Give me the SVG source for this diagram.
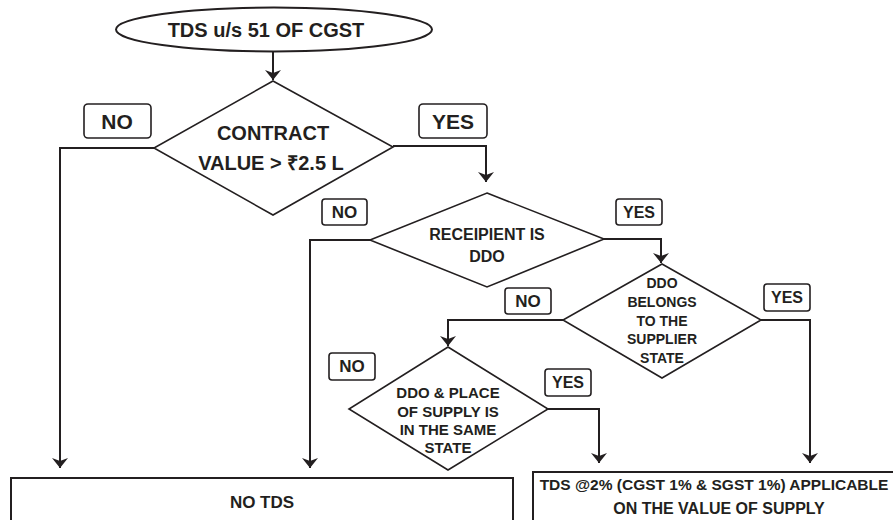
<svg xmlns="http://www.w3.org/2000/svg" width="893" height="520" viewBox="0 0 893 520">
<style>
.shape{fill:#fff;stroke:#231f20;stroke-width:1.6}
.box{fill:#fff;stroke:#231f20;stroke-width:2}
.lbl{fill:#fff;stroke:#231f20;stroke-width:1.6}
.conn{fill:none;stroke:#231f20;stroke-width:2}
text{font-family:"Liberation Sans",Arial,sans-serif;font-weight:bold;fill:#231f20;text-anchor:middle;dominant-baseline:central}
</style>
<defs>
<marker id="arr" viewBox="0 0 10 16" refX="10" refY="8" markerWidth="10" markerHeight="16" markerUnits="userSpaceOnUse" orient="auto">
<path d="M0,0 L10,8 L0,16 L3,8 Z" fill="#231f20"/>
</marker>
</defs>
<rect width="893" height="520" fill="#fff"/>
<g id="connectors">
<path class="conn" d="M273,52 V80" marker-end="url(#arr)"/>
<path class="conn" d="M154,148 H60 V468" marker-end="url(#arr)"/>
<path class="conn" d="M393,146 H486 V182" marker-end="url(#arr)"/>
<path class="conn" d="M370,240 H310 V468" marker-end="url(#arr)"/>
<path class="conn" d="M604,239 H661 V263" marker-end="url(#arr)"/>
<path class="conn" d="M563,320 H448 V346" marker-end="url(#arr)"/>
<path class="conn" d="M761,320 H810 V463" marker-end="url(#arr)"/>
<path class="conn" d="M548,409 H599 V463" marker-end="url(#arr)"/>
</g>
<g id="start">
<ellipse class="box" cx="274" cy="29.5" rx="158" ry="22"/>
<text x="266" y="30" font-size="20">TDS u/s 51 OF CGST</text>
</g>
<g id="contract">
<polygon class="shape" points="273,81 393,147 273,215 154,148"/>
<text x="273" y="133" font-size="20">CONTRACT</text>
<text x="271" y="163" font-size="20">VALUE &gt; ₹2.5 L</text>
</g>
<g id="label-no-1">
<rect class="lbl" x="84" y="104" width="67" height="34" rx="4"/>
<text x="117" y="121" font-size="21">NO</text>
</g>
<g id="label-yes-1">
<rect class="lbl" x="419" y="104" width="68" height="34" rx="4"/>
<text x="453" y="121" font-size="21">YES</text>
</g>
<g id="recipient">
<polygon class="shape" points="487,193 604,239 487,287 370,240"/>
<text x="487" y="234" font-size="16">RECEIPIENT IS</text>
<text x="487" y="256" font-size="16">DDO</text>
</g>
<g id="label-no-2">
<rect class="lbl" x="322" y="199" width="45" height="26" rx="3"/>
<text x="344.5" y="212" font-size="17">NO</text>
</g>
<g id="label-yes-2">
<rect class="lbl" x="616" y="199" width="46" height="26" rx="3"/>
<text x="639" y="212" font-size="16">YES</text>
</g>
<g id="ddo-belongs">
<polygon class="shape" points="662,264 761,320 662,378 563,320"/>
<text x="662" y="283" font-size="14">DDO</text>
<text x="662" y="302" font-size="14">BELONGS</text>
<text x="662" y="321" font-size="14">TO THE</text>
<text x="662" y="339" font-size="14">SUPPLIER</text>
<text x="662" y="358" font-size="14">STATE</text>
</g>
<g id="label-no-3">
<rect class="lbl" x="505" y="288" width="46" height="26" rx="3"/>
<text x="528" y="301" font-size="17">NO</text>
</g>
<g id="label-yes-3">
<rect class="lbl" x="764" y="284" width="46" height="27" rx="3"/>
<text x="787" y="297.5" font-size="16">YES</text>
</g>
<g id="ddo-place">
<polygon class="shape" points="448,347 548,409 448,470 349,409"/>
<text x="448" y="392" font-size="15">DDO &amp; PLACE</text>
<text x="448" y="411" font-size="15">OF SUPPLY IS</text>
<text x="448" y="429" font-size="15">IN THE SAME</text>
<text x="448" y="447" font-size="15">STATE</text>
</g>
<g id="label-no-4">
<rect class="lbl" x="329" y="353" width="46" height="27" rx="3"/>
<text x="352" y="366.5" font-size="17">NO</text>
</g>
<g id="label-yes-4">
<rect class="lbl" x="545" y="369" width="46" height="27" rx="3"/>
<text x="568" y="382.5" font-size="16">YES</text>
</g>
<g id="no-tds">
<rect class="box" x="11" y="478" width="502" height="60"/>
<text x="262" y="502" font-size="17">NO TDS</text>
</g>
<g id="tds-applicable">
<rect class="box" x="533" y="472" width="372" height="60"/>
<text x="714" y="484" font-size="15.5">TDS @2% (CGST 1% &amp; SGST 1%) APPLICABLE</text>
<text x="719" y="508" font-size="16">ON THE VALUE OF SUPPLY</text>
</g>
</svg>
